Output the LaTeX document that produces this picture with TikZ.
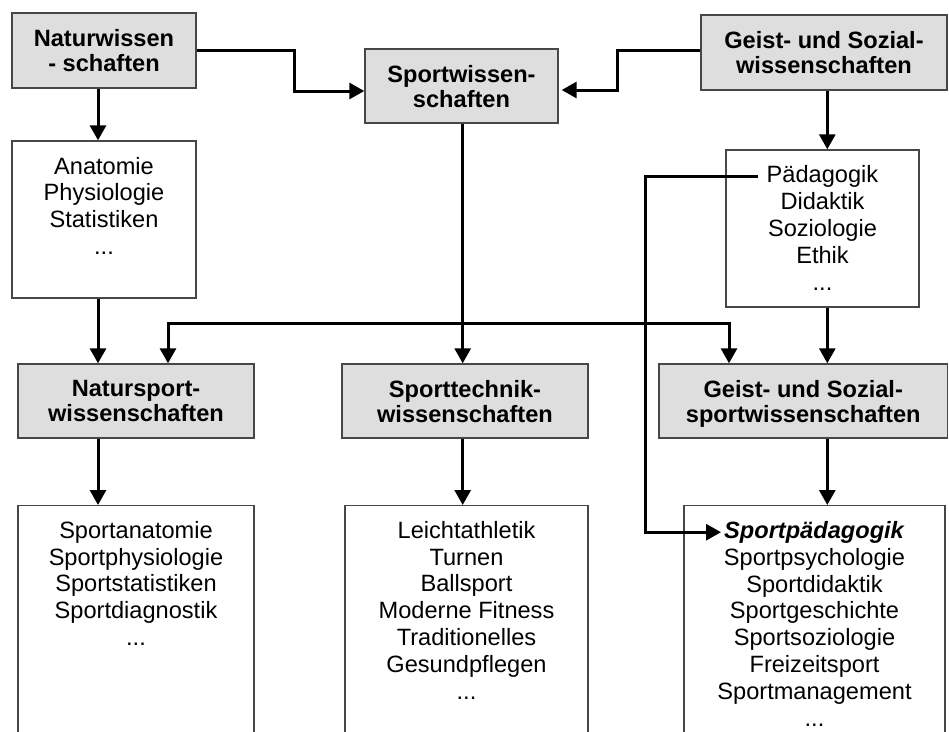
\documentclass[tikz,border=0pt]{standalone}
\usepackage{fontspec}
\setmainfont{Liberation Sans}
\usetikzlibrary{arrows.meta}
\definecolor{boxfill}{gray}{0.87}
\definecolor{boxline}{gray}{0.28}
\begin{document}
\begin{tikzpicture}[x=1pt,y=-1pt,
  head/.style={draw=boxline, line width=1.4pt, fill=boxfill, inner sep=0pt,
    align=center, text depth=0pt,
    font=\fontsize{23.6}{25}\selectfont\bfseries},
  listbox/.style={draw=boxline, line width=1.4pt, fill=white, inner sep=0pt},
  listtext/.style={inner sep=0pt, align=center,
    font=\fontsize{23.6}{26.8}\selectfont},
  conn/.style={line width=3pt, -{Triangle[length=15pt,width=16pt]}}]
\useasboundingbox (0,0) rectangle (949,731);
\clip (0,0) rectangle (949,731);

% column and row guides for the connectors
\coordinate (colA) at (98,0);
\coordinate (colB) at (168,0);
\coordinate (colC) at (462.7,0);
\coordinate (colD) at (729,0);
\coordinate (colE) at (827.3,0);
\coordinate (bendA) at (294,70);
\coordinate (bendB) at (617,70);
\coordinate (bendC) at (645,350);
\coordinate (rowY) at (0,323.3);

% top row
\node[head, minimum width=184pt, minimum height=75pt] (nat) at (104,50.5)
  {Naturwissen\\- schaften};
\node[head, minimum width=193pt, minimum height=74pt] (sw) at (461.5,86)
  {Sportwissen-\\schaften};
\node[head, minimum width=246pt, minimum height=75pt] (geist) at (824,52.5)
  {Geist- und Sozial-\\wissenschaften};

% second row: base disciplines
\node[listbox, minimum width=184pt, minimum height=157pt] (anat) at (104,219.5) {};
\node[listtext, anchor=north] (anatT) at ([yshift=-16.5pt]anat.north)
  {Anatomie\\Physiologie\\Statistiken\\...};
\node[listbox, minimum width=193pt, minimum height=157pt] (paed) at (822.5,228.5) {};
\node[listtext, anchor=north] (paedA) at ([yshift=-16pt]paed.north) {Pädagogik};
\node[listtext, anchor=north] (paedB) at ([yshift=-9.7pt]paedA.base)
  {Didaktik\\Soziologie\\Ethik\\...};

% third row: sport sciences
\node[head, minimum width=236pt, minimum height=74pt] (nsw) at (136,401)
  {Natursport-\\wissenschaften};
\node[head, minimum width=246pt, minimum height=74pt] (stw) at (465,401)
  {Sporttechnik-\\wissenschaften};
\node[head, minimum width=288.5pt, minimum height=74pt] (gsw) at (803.25,401)
  {Geist- und Sozial-\\sportwissenschaften};

% bottom row: subjects
\node[listbox, minimum width=236pt, minimum height=250pt] (bot1) at (136,630.7) {};
\node[listtext, anchor=north] (bot1T) at ([yshift=-16pt]bot1.north)
  {Sportanatomie\\Sportphysiologie\\Sportstatistiken\\Sportdiagnostik\\...};
\node[listbox, minimum width=243pt, minimum height=250pt] (bot2) at (466.5,630.7) {};
\node[listtext, anchor=north] (bot2T) at ([yshift=-16pt]bot2.north)
  {Leichtathletik\\Turnen\\Ballsport\\Moderne Fitness\\Traditionelles\\Gesundpflegen\\...};
\node[listbox, minimum width=261pt, minimum height=250pt] (bot3) at (814.5,630.7) {};
\node[listtext, anchor=north] (sportpaedA) at ([yshift=-16pt]bot3.north)
  {\textbf{\textit{Sportpädagogik}}};
\node[listtext, anchor=north] (sportpaedB) at ([yshift=-9.7pt]sportpaedA.base)
  {Sportpsychologie\\Sportdidaktik\\Sportgeschichte\\Sportsoziologie\\Freizeitsport\\Sportmanagement\\...};

% connectors
\draw[conn] (nat.east) -| (bendA) |- ([yshift=-5pt]sw.west);
\draw[conn, shorten >=3pt] ([yshift=2.5pt]geist.west) -| (bendB) |- ([yshift=-4pt]sw.east);

\draw[conn] (nat.south -| colA) -- (anat.north -| colA);
\draw[conn] (anat.south -| colA) -- (nsw.north -| colA);
\draw[conn] (nsw.south -| colA) -- (bot1.north -| colA);

\draw[conn] (sw.south -| colC) -- (stw.north -| colC);
\draw[conn] (colC |- rowY) -| (nsw.north -| colB);
\draw[conn] (colC |- rowY) -| (gsw.north -| colD);
\draw[conn] (stw.south -| colC) -- (bot2.north -| colC);

\draw[conn] (geist.south -| colE) -- (paed.north -| colE);
\draw[conn] (paed.south -| colE) -- (gsw.north -| colE);
\draw[conn] (gsw.south -| colE) -- (bot3.north -| colE);

\draw[conn, shorten <=9pt, shorten >=3pt] (paedA.west) -| (bendC) |- (sportpaedA.west);
\end{tikzpicture}
\end{document}
